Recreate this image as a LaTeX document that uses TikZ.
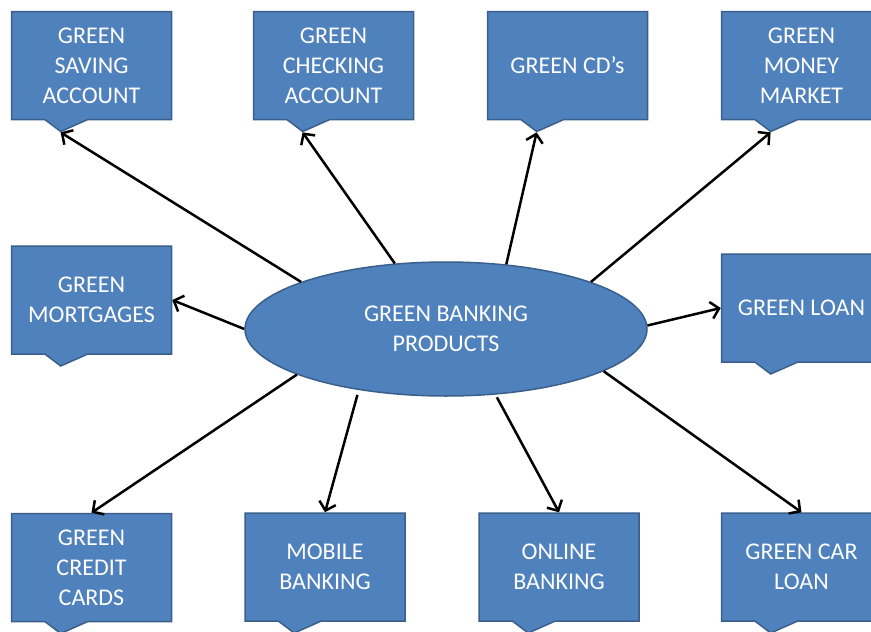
\documentclass[tikz,border=0pt]{standalone}
\usepackage{fontspec}
\setmainfont{Carlito}
\usetikzlibrary{shapes.geometric,shapes.callouts,arrows.meta}

\definecolor{boxfill}{HTML}{4f81bd}
\definecolor{boxedge}{HTML}{3a5f8b}
\tikzstyle{product}=[rectangle callout, draw={boxedge}, line width=1.5pt, fill={boxfill},
  text=white, font=\fontsize{24}{30}\selectfont, align=center, inner sep=0pt,
  minimum width=160pt, minimum height=108pt,
  callout relative pointer={(-5.6pt,-12pt)}, callout pointer width=43pt]
\tikzstyle{hub}=[ellipse, draw={boxedge}, line width=1.5pt, fill={boxfill},
  text=white, font=\fontsize{24}{30}\selectfont, align=center, inner sep=0pt,
  minimum width=402pt, minimum height=134pt]
\tikzstyle{link}=[-{Straight Barb[length=8pt,width=17pt]}, line width=2.5pt]

\begin{document}
\begin{tikzpicture}[x=1pt, y=-1pt]
      \useasboundingbox (0, 0) rectangle (871, 632);
      \node (products) at (446, 329) [hub] {GREEN BANKING\\PRODUCTS};

      \node (saving) at (91.5, 65.5) [product] {GREEN\\SAVING\\ACCOUNT};
      \node (checking) at (333.5, 65.5) [product] {GREEN\\CHECKING\\ACCOUNT};
      \node (cds) at (567.5, 65.5) [product] {GREEN CD’s};
      \node (moneymarket) at (801.5, 65.5) [product] {GREEN\\MONEY\\MARKET};
      \node (mortgages) at (91.5, 300) [product] {GREEN\\MORTGAGES};
      \node (loan) at (801.5, 308) [product] {GREEN LOAN};
      \node (creditcards) at (91.5, 567.5) [product] {GREEN\\CREDIT\\CARDS};
      \node (mobile) at (325, 567) [product] {MOBILE\\BANKING};
      \node (online) at (559, 567) [product] {ONLINE\\BANKING};
      \node (carloan) at (801.5, 567) [product] {GREEN CAR\\LOAN};

      \draw[link] (products.162) -- (saving.pointer);
      \draw[link] (products.128) -- (checking.pointer);
      \draw[link] (products.47) -- (cds.pointer);
      \draw[link] (products.18) -- (moneymarket.pointer);
      \draw[link] (products.180) -- (mortgages.east);
      \draw[link] (products.1) -- (loan.west);
      \draw[link] (products.197) -- (creditcards.north);
      \draw[link, shorten <=5pt] (products.215) -- (mobile.north);
      \draw[link, shorten <=3pt] (products.307) -- (online.north);
      \draw[link] (products.345) -- (carloan.north);
    \end{tikzpicture}
\end{document}
